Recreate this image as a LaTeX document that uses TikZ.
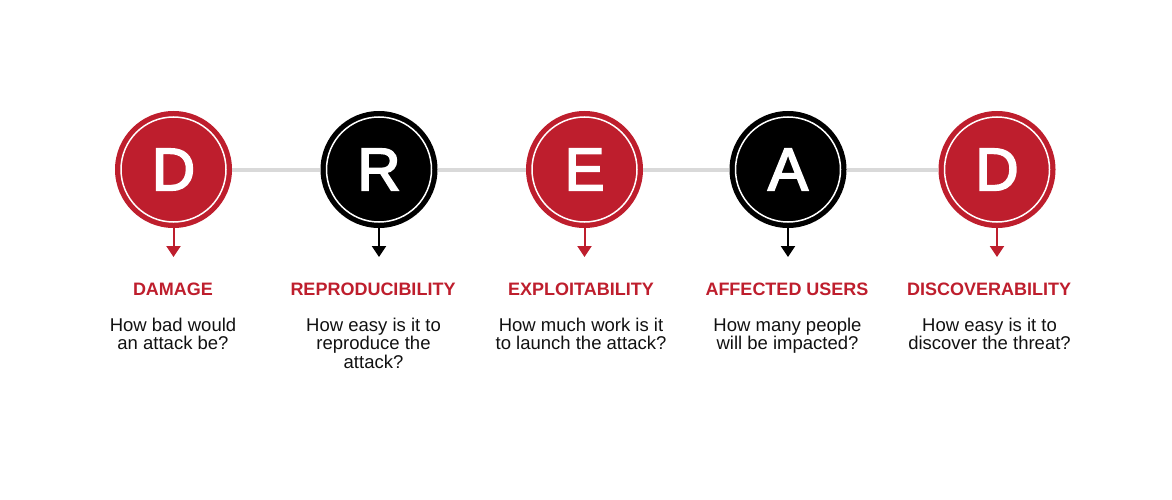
\documentclass[tikz,border=0pt]{standalone}
\usepackage{fontspec}
\setmainfont{Liberation Sans}
\newfontfamily\letterfont[FakeBold=3]{Liberation Sans}
\usetikzlibrary{arrows.meta}
\definecolor{dred}{HTML}{BE1E2D}
\definecolor{lgray}{HTML}{D9D9D9}
\definecolor{txt}{HTML}{111111}
\begin{document}
\begin{tikzpicture}[x=1pt,y=-1pt,
  disc/.style={circle,minimum size=117pt,inner sep=0pt,fill=#1,text=white,
    font=\fontsize{60}{60}\letterfont},
  ring/.style={white,line width=1.5pt},
  title/.style={anchor=base,inner sep=0pt,text=dred,font=\fontsize{18}{18}\selectfont\bfseries},
  body/.style={anchor=base,inner sep=0pt,align=center,text=txt,font=\fontsize{18.5}{18.5}\selectfont},
  conn/.style={lgray,line width=4pt},
  pointer/.style={draw=#1,line width=2pt,-{Triangle[width=14pt,length=11pt]}}
]
\useasboundingbox (0,0) rectangle (1172,500);
% circles
\node[disc=dred]  (c1) at (173.5,169.5) {D};
\node[disc=black] (c2) at (379,169.5) {R};
\node[disc=dred]  (c3) at (584.5,169.5) {E};
\node[disc=black] (c4) at (788,169.5) {A};
\node[disc=dred]  (c5) at (997,169.5) {D};
% connecting line
\foreach \a/\b in {c1/c2,c2/c3,c3/c4,c4/c5}{
  \draw[conn] (\a.east) -- (\b.west);
}
% inner rings
\foreach \c in {c1,c2,c3,c4,c5}{
  \draw[ring] (\c) circle[radius=52.5pt];
}
% arrows
\coordinate (a1) at (173.5,257);
\coordinate (a2) at (379,257);
\coordinate (a3) at (584.5,257);
\coordinate (a4) at (788,257);
\coordinate (a5) at (997,257);
\draw[pointer=dred]  (c1.south) -- (a1);
\draw[pointer=black] (c2.south) -- (a2);
\draw[pointer=dred]  (c3.south) -- (a3);
\draw[pointer=black] (c4.south) -- (a4);
\draw[pointer=dred]  (c5.south) -- (a5);
% titles
\node[title] (t1) at (173,295) {DAMAGE};
\node[title] (t2) at (373,295) {REPRODUCIBILITY};
\node[title] (t3) at (581,295) {EXPLOITABILITY};
\node[title] (t4) at (787,295) {AFFECTED USERS};
\node[title] (t5) at (989,295) {DISCOVERABILITY};
% bodies (base anchor = baseline of last line)
\node[body] (b1) at (173,349.5) {How bad would\\an attack be?};
\node[body] (b2) at (373.5,368) {How easy is it to\\reproduce the\\attack?};
\node[body] (b3) at (581,349.5) {How much work is it\\to launch the attack?};
\node[body] (b4) at (787.5,349.5) {How many people\\will be impacted?};
\node[body] (b5) at (989.5,349.5) {How easy is it to\\discover the threat?};
\end{tikzpicture}
\end{document}
